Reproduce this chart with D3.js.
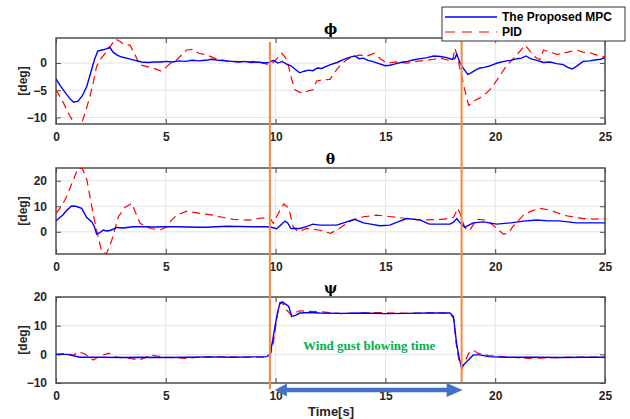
<!DOCTYPE html>
<html>
<head>
<meta charset="utf-8">
<script src="https://cdn.jsdelivr.net/npm/d3@7"></script>
<style>
  body { margin: 0; background: #fff; }
</style>
</head>
<body>
<svg width="630" height="419"></svg>
<script>
// time ticks and panel limits
var timeTicks = [0, 5, 10, 15, 20, 25];
var gustStart = 9.74, gustEnd = 18.47;

// roll angle phi [deg]
var phiMPC = [[0,-2.9],[0.2,-4.2],[0.4,-5.3],[0.6,-6.4],[0.8,-7.2],[1.0,-7.0],[1.2,-6.0],[1.4,-4.3],[1.6,-1.5],[1.75,0.6],[1.9,2.2],[2.1,2.4],[2.3,2.6],[2.45,2.9],[2.6,2.0],[2.8,1.4],[3.0,1.1],[3.3,0.8],[3.6,0.5],[3.9,0.2],[4.2,0.1],[4.5,0.2],[4.8,0.2],[5.0,0.3],[5.3,0.2],[5.6,0.4],[5.9,0.3],[6.2,0.5],[6.5,0.4],[6.8,0.5],[7.1,0.7],[7.4,0.5],[7.7,0.4],[8.0,0.3],[8.3,0.2],[8.6,0.3],[8.9,0.1],[9.2,0.2],[9.5,0.0],[9.7,0.1],[9.9,0.5],[10.1,0.0],[10.3,0.3],[10.5,-0.2],[10.7,-0.5],[10.9,-1.2],[11.1,-1.8],[11.3,-1.5],[11.5,-1.3],[11.7,-1.4],[11.9,-0.9],[12.1,-1.0],[12.3,-0.6],[12.5,-0.3],[12.8,0.1],[13.0,0.5],[13.2,0.8],[13.4,1.1],[13.6,1.3],[13.8,0.8],[14.0,0.9],[14.2,0.5],[14.4,0.3],[14.7,-0.1],[15.0,-0.5],[15.2,-0.4],[15.5,-0.1],[15.8,0.2],[16.0,0.3],[16.3,0.6],[16.6,0.8],[16.9,1.0],[17.2,1.3],[17.5,1.2],[17.8,1.0],[18.0,0.7],[18.15,0.8],[18.25,1.6],[18.4,0.0],[18.55,-1.0],[18.75,-2.1],[18.9,-1.8],[19.1,-1.3],[19.3,-0.9],[19.5,-0.8],[19.7,-0.6],[19.9,-0.3],[20.1,0.0],[20.4,0.3],[20.7,0.5],[21.0,0.8],[21.2,0.9],[21.4,1.3],[21.6,0.8],[21.9,0.5],[22.2,0.1],[22.5,0.2],[22.8,-0.1],[23.1,-0.3],[23.3,-0.8],[23.5,-1.1],[23.7,-0.6],[24.0,0.3],[24.3,0.4],[24.6,0.6],[24.8,0.7],[25,1.0]];
var phiPID = [[0,-4.9],[0.3,-7],[0.6,-9.5],[0.9,-11.5],[1.1,-11.8],[1.3,-9.5],[1.55,-6.1],[1.7,-3.5],[1.85,-0.6],[2.05,0.8],[2.3,2.1],[2.5,3.2],[2.7,4.4],[2.9,4.0],[3.1,3.4],[3.37,3.3],[3.6,1.5],[3.8,-0.3],[4.1,-0.6],[4.4,-0.9],[4.6,-1.2],[4.8,-1.5],[5.0,-0.8],[5.2,-0.1],[5.5,0.6],[5.75,1.6],[5.95,2.4],[6.2,2.5],[6.5,1.8],[6.86,1.5],[7.2,0.9],[7.5,0.7],[7.8,0.3],[8.2,0.3],[8.6,0.2],[9.0,0.3],[9.3,0.1],[9.7,-0.3],[9.9,0.1],[10.1,1.0],[10.28,1.8],[10.45,1.0],[10.57,-0.3],[10.72,-2.8],[10.88,-4.9],[11.05,-5.3],[11.25,-5.5],[11.5,-5.1],[11.7,-4.9],[11.87,-3.3],[12.1,-3.1],[12.48,-3.0],[12.65,-2.0],[12.78,-1.2],[13.0,-0.2],[13.24,0.6],[13.5,1.1],[13.84,1.5],[14.1,1.2],[14.5,1.8],[14.8,0.7],[15.06,0.0],[15.5,0.2],[16.0,0.0],[16.4,0.3],[16.9,0.5],[17.2,0.7],[17.5,0.9],[17.8,0.6],[18.05,0.3],[18.17,2.7],[18.3,0.8],[18.4,-1.2],[18.55,-3.8],[18.7,-6.4],[18.8,-7.8],[19.0,-7.1],[19.15,-6.7],[19.3,-6.4],[19.6,-5.5],[19.76,-4.9],[20.0,-3.6],[20.2,-2.4],[20.5,-0.6],[20.75,0.5],[20.98,1.5],[21.2,2.5],[21.36,3.3],[21.5,2.6],[21.66,1.8],[21.85,1.0],[22.04,0.6],[22.2,2.4],[22.5,2.0],[22.8,1.6],[23.1,1.8],[23.4,2.1],[23.7,2.4],[24.0,2.0],[24.3,1.9],[24.6,1.5],[24.9,1.1],[25,1.3]];

// pitch angle theta [deg]
var thetaMPC = [[0,4.3],[0.3,6.5],[0.5,8.5],[0.71,10.1],[0.9,10.0],[1.17,9.2],[1.4,5.6],[1.63,3.9],[1.75,2.0],[1.85,-0.9],[2.0,-0.3],[2.15,0.7],[2.3,0.3],[2.45,0.5],[2.6,1.0],[2.76,1.7],[3.06,1.5],[3.5,2.0],[4,2.0],[4.5,1.9],[5,2.0],[5.5,2.0],[6,1.9],[6.5,1.8],[6.86,1.8],[7.3,2.0],[7.77,2.2],[8.3,2.1],[9.0,2.0],[9.6,2.0],[9.8,1.8],[10.05,1.2],[10.25,2.8],[10.43,4.2],[10.55,3.5],[10.7,1.3],[11.1,1.3],[11.4,2.0],[11.7,3.0],[12.0,2.6],[12.4,2.6],[12.78,2.6],[13.2,3.8],[13.6,4.9],[14.0,3.5],[14.4,2.9],[14.75,2.4],[15.2,2.6],[15.6,4.0],[15.97,5.2],[16.6,4.6],[17.0,3.0],[17.5,3.0],[17.94,3.0],[18.1,3.8],[18.25,5.2],[18.4,3.5],[18.62,1.7],[18.8,2.6],[19.0,3.5],[19.46,3.9],[20.07,3.0],[20.7,3.5],[21.3,4.2],[21.9,4.6],[22.4,4.3],[22.9,4.3],[23.3,3.9],[23.7,3.5],[24.3,3.5],[25,3.5]];
var thetaPID = [[0,7.2],[0.25,10],[0.48,13.7],[0.75,19.5],[1.0,24.9],[1.2,24.8],[1.4,20.5],[1.55,13.7],[1.7,6.5],[1.85,0.7],[2.08,-7.8],[2.3,-8.6],[2.54,-3.3],[2.7,1.5],[2.84,5.9],[3.14,9.6],[3.45,11.1],[3.65,7.0],[3.83,3.3],[4.3,1.3],[4.74,0.7],[5.05,2.0],[5.25,4.5],[5.5,6.5],[5.95,8.1],[6.56,7.2],[7.16,6.5],[7.6,5.6],[8.07,4.9],[8.8,4.6],[9.2,5.2],[9.6,5.6],[9.75,5.2],[9.9,3.3],[10.2,8.5],[10.38,10.9],[10.6,9.2],[10.8,2.0],[11.03,0.0],[11.4,1.3],[11.97,0.7],[12.5,-0.6],[12.9,1.3],[13.2,3.0],[13.5,4.6],[14.0,5.9],[14.6,6.5],[15.3,5.9],[15.97,5.2],[16.7,4.6],[17.6,4.9],[18.1,5.6],[18.3,9.2],[18.4,7.2],[18.55,3.0],[18.7,0.7],[18.85,0.7],[19.15,4.9],[19.6,4.6],[19.9,2.6],[20.37,-0.9],[20.6,-0.6],[20.8,2.0],[21.28,6.5],[21.6,8.0],[22.04,9.2],[22.5,8.5],[23.1,6.5],[24.0,5.2],[24.5,5.0],[25,5.2]];

// yaw angle psi [deg]
var psiMPC = [[0,0],[0.5,0],[0.8,-0.5],[1.1,-1],[2,-1],[3,-1.1],[4,-1],[5,-1.1],[6,-1],[7,-0.9],[8,-1],[9,-0.9],[9.6,-0.8],[9.75,0],[9.87,5],[9.97,9.7],[10.1,15],[10.2,17.9],[10.3,18.3],[10.45,17.5],[10.6,16.7],[10.73,13.2],[10.9,13.6],[11.1,14.4],[11.6,14.6],[12,14.4],[13,14.3],[14,14.4],[15,14.2],[16,14.3],[17,14.4],[17.94,14.4],[18.1,13.2],[18.24,3.9],[18.35,-1],[18.46,-4.4],[18.7,-2.6],[19.0,-0.2],[19.3,-0.2],[19.7,-0.8],[20.5,-1],[22,-1],[23,-1.1],[24,-1],[25,-1]];
var psiPID = [[0,0],[0.5,0.3],[0.8,-0.3],[1.0,0.9],[1.3,0.2],[1.7,-2.0],[1.9,-1.0],[2.4,0.4],[2.76,-1],[3.2,-1.2],[3.8,-2.0],[4.3,-0.3],[5,-1],[5.95,-1.4],[6.5,-1],[7.5,-0.8],[8.5,-1],[9.5,-1],[9.75,-0.6],[9.9,4],[10.0,9.5],[10.1,14.5],[10.2,18],[10.35,17.5],[10.5,15.5],[10.7,13.8],[10.9,14.5],[11.1,15.2],[11.5,15.0],[12,14.9],[13,14.2],[14.6,14.6],[16,14.3],[17,14.5],[17.94,14.4],[18.1,12.5],[18.24,2.7],[18.35,-2],[18.5,-4.9],[18.65,-2],[18.8,0.4],[19.0,1.5],[19.2,0.4],[19.7,-0.4],[20.5,-0.9],[21.5,-1.4],[22.5,-1.2],[23.5,-1],[25,-1]];

var panels = [
  {title: "ϕ", mpc: phiMPC, pid: phiPID, domain: [-11.2, 4.6], ticks: [-10, -5, 0], top: 38, bottom: 124},
  {title: "θ", mpc: thetaMPC, pid: thetaPID, domain: [-8.7, 25], ticks: [0, 10, 20], top: 168, bottom: 254},
  {title: "ψ", mpc: psiMPC, pid: psiPID, domain: [-10, 20], ticks: [-10, 0, 10, 20], top: 297, bottom: 383}
];

var svg = d3.select("svg");
var left = 56, right = 605;
var x = d3.scaleLinear().domain([0, 25]).range([left, right]);
var axisColor = "#4d4d4d", textColor = "#262626";
var sans = "'Liberation Sans', Arial, sans-serif";

panels.forEach(function(p, i) {
  var y = d3.scaleLinear().domain(p.domain).range([p.bottom, p.top]);
  var g = svg.append("g");

  g.append("clipPath").attr("id", "clip" + i)
    .append("rect").attr("x", left).attr("y", p.top)
    .attr("width", right - left).attr("height", p.bottom - p.top);

  // grid
  g.append("g").selectAll("line").data(timeTicks.slice(1, -1)).enter().append("line")
    .attr("x1", d => x(d)).attr("x2", d => x(d))
    .attr("y1", p.top).attr("y2", p.bottom)
    .attr("stroke", "#e3e3e3").attr("stroke-width", 1);
  g.append("g").selectAll("line").data(p.ticks.filter(t => y(t) > p.top + 1 && y(t) < p.bottom - 1)).enter().append("line")
    .attr("x1", left).attr("x2", right)
    .attr("y1", d => y(d)).attr("y2", d => y(d))
    .attr("stroke", "#e3e3e3").attr("stroke-width", 1);

  // axes
  var xb = d3.axisBottom(x).tickValues(timeTicks).tickSize(-5).tickPadding(8).tickFormat(d3.format("d"));
  var xt = d3.axisTop(x).tickValues(timeTicks).tickSize(-5).tickFormat("");
  var yl = d3.axisLeft(y).tickValues(p.ticks).tickSize(-5).tickPadding(9).tickFormat(d3.format("d"));
  var yr = d3.axisRight(y).tickValues(p.ticks).tickSize(-5).tickFormat("");
  [[xb, "translate(0," + p.bottom + ")"], [xt, "translate(0," + p.top + ")"],
   [yl, "translate(" + left + ",0)"], [yr, "translate(" + right + ",0)"]].forEach(function(a) {
    var ag = g.append("g").attr("transform", a[1]).call(a[0]);
    ag.select(".domain").remove();
    ag.selectAll(".tick line").attr("stroke", axisColor);
    ag.selectAll("text").attr("fill", textColor).attr("font-size", 12).attr("font-weight", "bold")
      .style("font-family", sans);
  });
  g.append("rect").attr("x", left).attr("y", p.top)
    .attr("width", right - left).attr("height", p.bottom - p.top)
    .attr("fill", "none").attr("stroke", axisColor).attr("stroke-width", 1.5);

  var line = d3.line().x(d => x(d[0])).y(d => y(d[1]));
  var lines = g.append("g").attr("clip-path", "url(#clip" + i + ")");
  lines.append("path").datum(p.pid).attr("d", line)
    .attr("fill", "none").attr("stroke", "#ff0000").attr("stroke-width", 1.2)
    .attr("stroke-dasharray", "8,5");
  lines.append("path").datum(p.mpc).attr("d", line)
    .attr("fill", "none").attr("stroke", "#0000ff").attr("stroke-width", 1.4);

  // labels
  g.append("text").attr("x", (left + right) / 2).attr("y", p.top - 4)
    .attr("text-anchor", "middle").attr("font-size", 14).attr("font-weight", "bold")
    .style("font-family", "'DejaVu Serif', serif").attr("fill", "#000").text(p.title);
  g.append("text").attr("transform", "translate(27," + ((p.top + p.bottom) / 2) + ") rotate(-90)")
    .attr("text-anchor", "middle").attr("font-size", 12).attr("font-weight", "bold")
    .style("font-family", sans).attr("fill", textColor).text("[deg]");
});

// gust markers
[[gustStart, 42, 389], [gustEnd, 41, 382]].forEach(function(m) {
  svg.append("line").attr("x1", x(m[0])).attr("x2", x(m[0]))
    .attr("y1", m[1]).attr("y2", m[2])
    .attr("stroke", "#f0883e").attr("stroke-width", 2);
});

// double arrow for gust duration
var ay = 390, ax1 = x(gustStart) + 5, ax2 = x(gustEnd) + 1;
svg.append("line").attr("x1", ax1 + 10).attr("x2", ax2 - 14)
  .attr("y1", ay).attr("y2", ay).attr("stroke", "#4472c4").attr("stroke-width", 4.5);
svg.append("path").attr("d", "M" + ax1 + "," + ay + "L" + (ax1 + 12) + "," + (ay - 6.5) + "L" + (ax1 + 12) + "," + (ay + 6.5) + "Z")
  .attr("fill", "#4472c4");
svg.append("path").attr("d", "M" + ax2 + "," + ay + "L" + (ax2 - 16) + "," + (ay - 7) + "L" + (ax2 - 16) + "," + (ay + 7) + "Z")
  .attr("fill", "#4472c4");

svg.append("text").attr("x", 303).attr("y", 350)
  .style("font-family", "'Liberation Serif', 'Times New Roman', serif").attr("font-weight", "bold")
  .attr("font-size", 13).attr("fill", "#00b050").text("Wind gust blowing time");

svg.append("text").attr("x", 331).attr("y", 416).attr("text-anchor", "middle")
  .style("font-family", sans)
  .attr("font-size", 13).attr("font-weight", "bold").attr("fill", textColor).text("Time[s]");

// legend
var lg = svg.append("g").style("font-family", sans);
lg.append("rect").attr("x", 442).attr("y", 7).attr("width", 183).attr("height", 34)
  .attr("fill", "#fff").attr("stroke", "#333").attr("stroke-width", 1);
lg.append("line").attr("x1", 445).attr("x2", 497).attr("y1", 17).attr("y2", 17)
  .attr("stroke", "#0000ff").attr("stroke-width", 1.4);
lg.append("line").attr("x1", 445).attr("x2", 497).attr("y1", 32).attr("y2", 32)
  .attr("stroke", "#ff0000").attr("stroke-width", 1.2).attr("stroke-dasharray", "10,7");
lg.append("text").attr("x", 502).attr("y", 21).attr("font-size", 12).attr("font-weight", "bold")
  .attr("fill", "#000").text("The Proposed MPC");
lg.append("text").attr("x", 502).attr("y", 36).attr("font-size", 12).attr("font-weight", "bold")
  .attr("fill", "#000").text("PID");
</script>
</body>
</html>
